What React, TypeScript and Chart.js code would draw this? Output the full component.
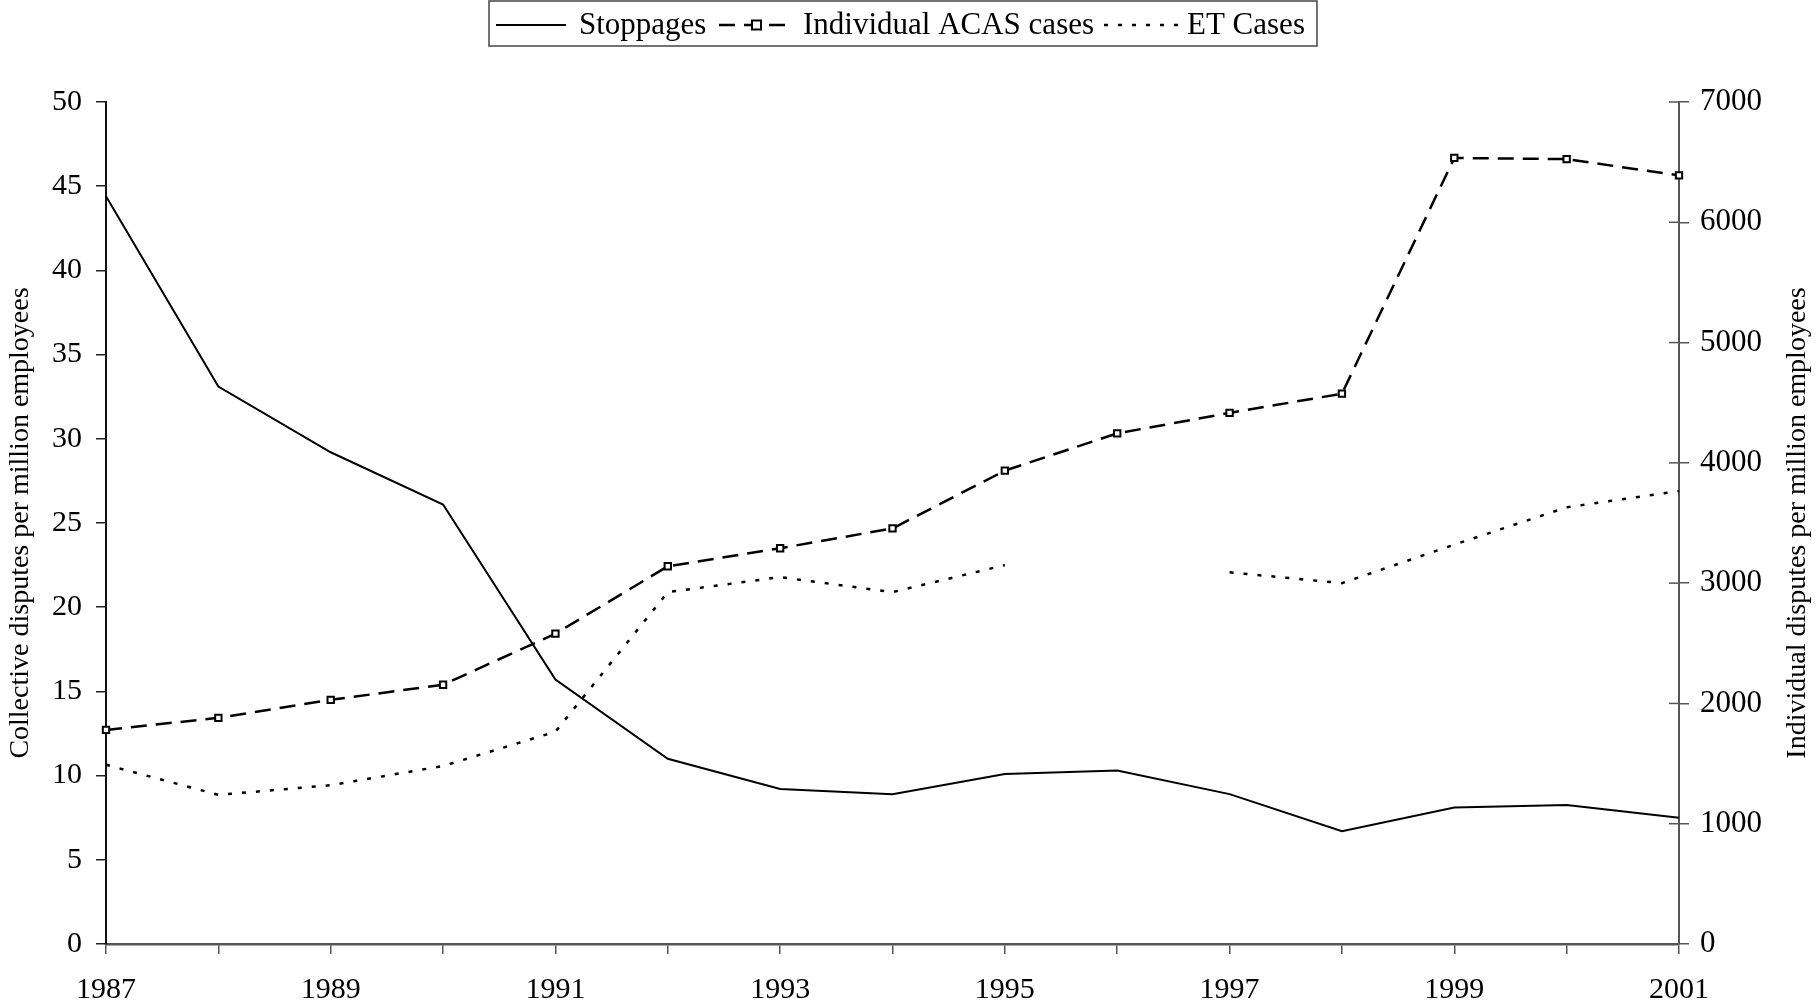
import React, { useEffect, useRef } from 'react';
import { Chart, registerables } from 'chart.js';
Chart.register(...registerables);

const years = ['1987', '1988', '1989', '1990', '1991', '1992', '1993', '1994', '1995', '1996', '1997', '1998', '1999', '2000', '2001'];
const stoppages = [44.4, 33.1, 29.2, 26.1, 15.7, 11.0, 9.2, 8.9, 10.1, 10.3, 8.9, 6.7, 8.1, 8.25, 7.5];
const acasCases = [1780, 1880, 2030, 2155, 2580, 3140, 3290, 3455, 3935, 4245, 4415, 4575, 6535, 6525, 6390];
const etCases = [1490, 1240, 1320, 1480, 1765, 2925, 3050, 2925, 3150, null, 3090, 3000, 3320, 3630, 3765];
const seriesNames = ['Stoppages', 'Individual ACAS cases', 'ET Cases'];
const leftTitle = 'Collective disputes per million employees';
const rightTitle = 'Individual disputes per million employees';

const FONT = '"Liberation Serif", "Times New Roman", serif';

const boxLegend = {
  id: 'boxLegend',
  afterDraw(chart: any) {
    const ctx = chart.ctx;
    ctx.save();
    const x0 = 489, x1 = 1317, y0 = 1, y1 = 46;
    ctx.strokeStyle = '#444';
    ctx.lineWidth = 1.5;
    ctx.strokeRect(x0, y0, x1 - x0, y1 - y0);
    const cy = 25;
    const items = [
      { s: 496, e: 566, t: 579 },
      { s: 719, e: 794, t: 803 },
      { s: 1104, e: 1179, t: 1187 },
    ];
    chart.data.datasets.forEach((ds: any, i: number) => {
      const it = items[i];
      ctx.strokeStyle = '#000';
      ctx.lineWidth = ds.borderWidth;
      ctx.setLineDash(ds.borderDash || []);
      ctx.beginPath();
      ctx.moveTo(it.s, cy);
      ctx.lineTo(it.e, cy);
      ctx.stroke();
      ctx.setLineDash([]);
      if (ds.pointRadius > 0) {
        const m = (it.s + it.e) / 2;
        const r = ds.pointRadius;
        ctx.fillStyle = '#fff';
        ctx.fillRect(m - r, cy - r, 2 * r, 2 * r);
        ctx.lineWidth = 2;
        ctx.strokeRect(m - r, cy - r, 2 * r, 2 * r);
      }
      ctx.fillStyle = '#000';
      ctx.font = `31px ${FONT}`;
      ctx.textBaseline = 'middle';
      ctx.textAlign = 'left';
      ctx.fillText(ds.label, it.t, cy + 1);
    });
    ctx.restore();
  },
};

const rightAxisExtras = {
  id: 'rightAxisExtras',
  afterDraw(chart: any) {
    const sc = chart.scales.y1;
    const ctx = chart.ctx;
    ctx.save();
    ctx.strokeStyle = '#555';
    ctx.lineWidth = 1.5;
    sc.ticks.forEach((t: any) => {
      const y = sc.getPixelForValue(t.value);
      ctx.beginPath();
      ctx.moveTo(sc.left - 10, y);
      ctx.lineTo(sc.left, y);
      ctx.stroke();
    });
    const area = chart.chartArea;
    ctx.translate(1798, (area.top + area.bottom) / 2);
    ctx.rotate(-Math.PI / 2);
    ctx.fillStyle = '#000';
    ctx.font = `28px ${FONT}`;
    ctx.textAlign = 'center';
    ctx.textBaseline = 'middle';
    ctx.fillText(rightTitle, 0, 0);
    ctx.restore();
  },
};

export default function App() {
  const ref = useRef<HTMLCanvasElement>(null);
  useEffect(() => {
    document.body.style.margin = '0';
    const chart = new Chart(ref.current!, {
      type: 'line',
      data: {
        labels: years,
        datasets: [
          {
            label: seriesNames[0], data: stoppages, yAxisID: 'y', borderColor: '#000', borderWidth: 2,
            pointRadius: 0, tension: 0,
          },
          {
            label: seriesNames[1], data: acasCases, yAxisID: 'y1', borderColor: '#000', borderWidth: 2.5,
            borderDash: [16, 9], pointStyle: 'rect', pointRadius: 4.5, pointBorderWidth: 2,
            pointBackgroundColor: '#fff', pointBorderColor: '#000', tension: 0,
          },
          {
            label: seriesNames[2], data: etCases, yAxisID: 'y1', borderColor: '#000', borderWidth: 2.5,
            borderDash: [4, 10], pointRadius: 0, tension: 0, spanGaps: false,
          },
        ],
      },
      options: {
        animation: false,
        responsive: false,
        layout: { padding: { top: 102, left: 0, right: 0, bottom: 0 } },
        plugins: { legend: { display: false }, tooltip: { enabled: false } },
        scales: {
          x: {
            type: 'category',
            offset: false,
            afterFit: (s: any) => { s.height = 63; },
            grid: { drawOnChartArea: false, tickLength: 10, color: '#555', lineWidth: 1.5 },
            border: { color: '#555', width: 2.5 },
            ticks: {
              autoSkip: false, maxRotation: 0, padding: 18, color: '#000',
              font: { family: FONT, size: 30 },
              callback: (_v: any, i: number) => (i % 2 === 0 ? years[i] : ''),
            },
          },
          y: {
            position: 'left',
            min: 0, max: 50,
            afterFit: (s: any) => { s.width = 106; },
            grid: { drawOnChartArea: false, tickLength: 10, color: '#222', lineWidth: 1.5 },
            border: { color: '#111', width: 2 },
            ticks: { stepSize: 5, padding: 14, color: '#000', font: { family: FONT, size: 30 } },
            title: { display: true, text: leftTitle, color: '#000', font: { family: FONT, size: 28 }, padding: { top: 4, bottom: 0 } },
          },
          y1: {
            position: 'right',
            min: 0, max: 7000,
            afterFit: (s: any) => { s.width = 137; },
            grid: { drawOnChartArea: false, tickLength: 10, color: '#555', lineWidth: 1.5 },
            border: { color: '#555', width: 2 },
            ticks: {
              stepSize: 1000, padding: 11, color: '#000', font: { family: FONT, size: 31 },
              callback: (v: any) => String(v),
            },
          },
        },
      },
      plugins: [boxLegend, rightAxisExtras],
    } as any);
    return () => chart.destroy();
  }, []);
  return <canvas ref={ref} width={1816} height={1007} style={{ display: 'block' }} />;
}
